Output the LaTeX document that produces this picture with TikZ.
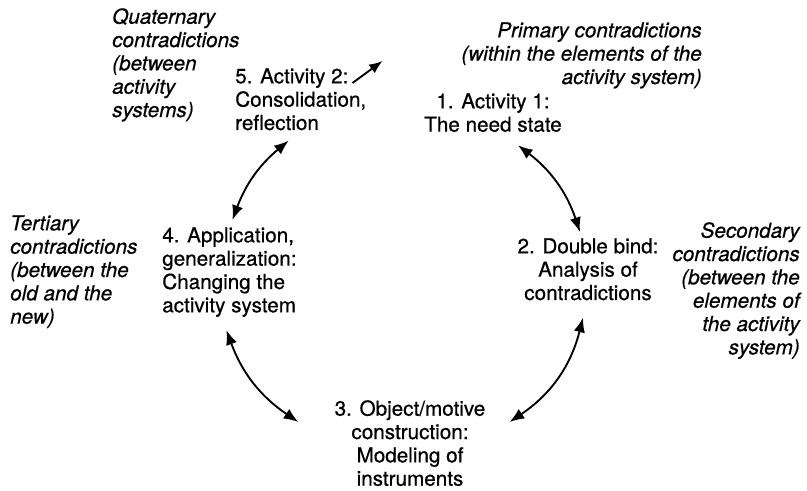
\documentclass[tikz,border=0pt]{standalone}
\usepackage{fontspec}
\setmainfont{TeX Gyre Heros}[FakeBold=0.6]
\usetikzlibrary{arrows.meta}

\begin{document}
\begin{tikzpicture}[x=0.75pt,y=-0.75pt,
    every node/.style={inner sep=0pt,font=\fontsize{15.5}{17.5}\selectfont},
    note/.style={font=\fontsize{15.5}{17.5}\selectfont\itshape},
    link/.style={line width=1.4pt,{Latex[length=11pt,width=8.5pt]}-{Latex[length=11pt,width=8.5pt]}},
    onward/.style={line width=1.4pt,-{Latex[length=10pt,width=8pt]}}]
\useasboundingbox (0,0) rectangle (807,491);
% stages of the cycle
\node[anchor=north,align=center] (act1) at (493,93) {1. Activity 1:\\The need state};
\node[anchor=north,align=center] (act2) at (588,238) {2. Double bind:\\Analysis of\\contradictions};
\node[anchor=north,align=center] (act3) at (410,400) {3. Object/motive\\construction:\\Modeling of\\instruments};
\node[anchor=north west,align=left] (act4) at (162,227) {4. Application,\\generalization:\\Changing the\\activity system};
\node[anchor=north west,align=left] (act5) at (235,68) {5. Activity 2:\\Consolidation,\\reflection};
% kinds of contradictions
\node[note,anchor=north east,align=right] (prim) at (702,22) {Primary contradictions\\(within the elements of the\\activity system)};
\node[note,anchor=north east,align=right] (sec) at (800,222) {Secondary\\contradictions\\(between the\\elements of\\the activity\\system)};
\node[note,anchor=north west,align=left] (tert) at (10,215) {Tertiary\\contradictions\\(between the\\old and the\\new)};
\node[note,anchor=north west,align=left] (quat) at (112,8) {Quaternary\\contradictions\\(between\\activity\\systems)};
% arrows
\draw[link] ([shift={(-12,10)}]act5.south) to[bend right=15] ([shift={(3,-7)}]act4.north);
\draw[link] ([shift={(-3,13)}]act4.south) to[bend right=18] ([shift={(-36,22)}]act3.north west);
\draw[link] ([shift={(24,22)}]act3.north east) to[bend right=21] ([shift={(-5,17)}]act2.south);
\draw[link] ([shift={(-8,-6)}]act2.north) to[bend right=17] ([shift={(25,13)}]act1.south);
\draw[onward] ([shift={(-14,15)}]act5.north east) -- ([shift={(16,-7)}]act5.north east);
\end{tikzpicture}
\end{document}
